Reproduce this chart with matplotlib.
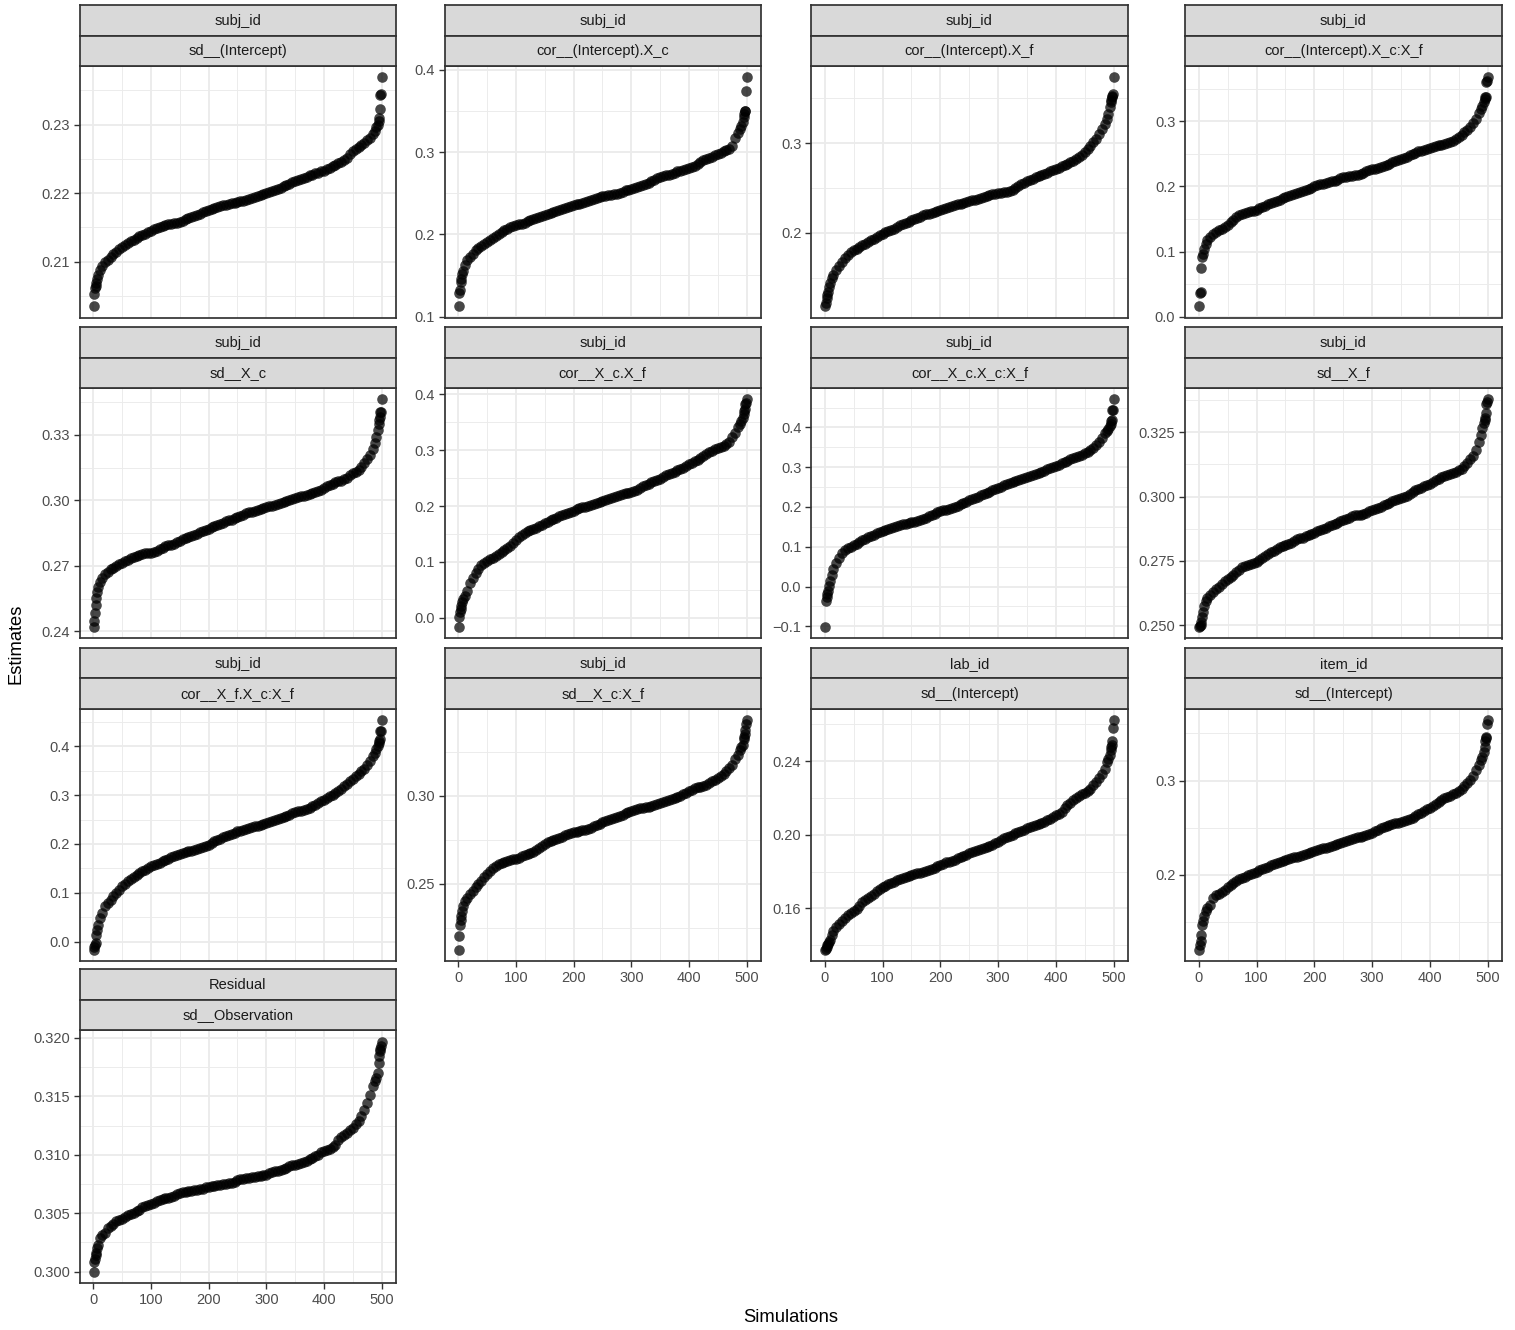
import matplotlib
matplotlib.use('Agg')
import matplotlib.pyplot as plt
import numpy as np

plt.rcParams['font.family'] = ['Liberation Sans', 'DejaVu Sans']

# ---------------- data ----------------
SIM = [1, 2, 3, 4, 5, 7, 9, 12, 15, 20, 25, 30,
       35, 40, 45, 50, 55, 60, 65, 70, 75, 80,
       85, 90, 95, 100, 105, 110, 115, 120, 125, 130,
       135, 140, 145, 150, 155, 160, 165, 170, 175, 180,
       185, 190, 195, 200, 205, 210, 215, 220, 225, 230,
       235, 240, 245, 250, 255, 260, 265, 270, 275, 280,
       285, 290, 295, 300, 305, 310, 315, 320, 325, 330,
       335, 340, 345, 350, 355, 360, 365, 370, 375, 380,
       385, 390, 395, 400, 405, 410, 415, 420, 425, 430,
       435, 440, 445, 450, 455, 460, 465, 470,
       475, 480, 485, 488, 491, 493, 495, 496, 497, 498, 499, 500]

GROUPS = ['subj_id'] * 10 + ['lab_id', 'item_id', 'Residual']
TERMS = ['sd__(Intercept)', 'cor__(Intercept).X_c', 'cor__(Intercept).X_f',
         'cor__(Intercept).X_c:X_f', 'sd__X_c', 'cor__X_c.X_f', 'cor__X_c.X_c:X_f',
         'sd__X_f', 'cor__X_f.X_c:X_f', 'sd__X_c:X_f', 'sd__(Intercept)',
         'sd__(Intercept)', 'sd__Observation']

est_subj_sd_int = [
    0.2035, 0.2052, 0.2062, 0.2065, 0.2068, 0.2074, 0.2080, 0.2088, 0.2093, 0.2099, 0.2103, 0.2107,
    0.2111, 0.2114, 0.2118, 0.2121, 0.2124, 0.2127, 0.2130, 0.2132, 0.2135, 0.2137,
    0.2139, 0.2141, 0.2143, 0.2145, 0.2147, 0.2149, 0.2151, 0.2152, 0.2154, 0.2155,
    0.2155, 0.2156, 0.2157, 0.2158, 0.2160, 0.2162, 0.2164, 0.2165, 0.2167, 0.2168,
    0.2170, 0.2172, 0.2174, 0.2175, 0.2177, 0.2178, 0.2180, 0.2181, 0.2182, 0.2183,
    0.2184, 0.2185, 0.2186, 0.2187, 0.2188, 0.2189, 0.2190, 0.2191, 0.2193, 0.2194,
    0.2196, 0.2197, 0.2199, 0.2200, 0.2202, 0.2203, 0.2205, 0.2206, 0.2208, 0.2210,
    0.2212, 0.2214, 0.2216, 0.2217, 0.2219, 0.2220, 0.2222, 0.2224, 0.2226, 0.2227,
    0.2229, 0.2230, 0.2232, 0.2233, 0.2235, 0.2237, 0.2239, 0.2241, 0.2244, 0.2246,
    0.2249, 0.2252, 0.2257, 0.2262, 0.2265, 0.2268, 0.2271, 0.2273,
    0.2277, 0.2281, 0.2287, 0.2291, 0.2296, 0.2300, 0.2305, 0.2310, 0.2323, 0.2344, 0.2345, 0.2369]

est_subj_cor_int_xc = [
    0.1127, 0.1281, 0.1321, 0.1422, 0.1460, 0.1520, 0.1556, 0.1624, 0.1685, 0.1725, 0.1766, 0.1806,
    0.1830, 0.1855, 0.1881, 0.1907, 0.1932, 0.1956, 0.1978, 0.2000, 0.2024, 0.2048,
    0.2069, 0.2089, 0.2104, 0.2117, 0.2123, 0.2129, 0.2143, 0.2158, 0.2174, 0.2190,
    0.2200, 0.2210, 0.2220, 0.2230, 0.2245, 0.2259, 0.2271, 0.2283, 0.2297, 0.2311,
    0.2321, 0.2331, 0.2342, 0.2352, 0.2362, 0.2372, 0.2382, 0.2392, 0.2402, 0.2412,
    0.2426, 0.2440, 0.2451, 0.2461, 0.2467, 0.2473, 0.2479, 0.2485, 0.2493, 0.2501,
    0.2517, 0.2533, 0.2544, 0.2554, 0.2564, 0.2574, 0.2584, 0.2594, 0.2608, 0.2622,
    0.2643, 0.2663, 0.2679, 0.2695, 0.2705, 0.2715, 0.2725, 0.2735, 0.2750, 0.2764,
    0.2774, 0.2784, 0.2796, 0.2808, 0.2822, 0.2836, 0.2857, 0.2877, 0.2897, 0.2917,
    0.2931, 0.2945, 0.2962, 0.2978, 0.2994, 0.3010, 0.3024, 0.3038,
    0.3079, 0.3172, 0.3228, 0.3281, 0.3321, 0.3362, 0.3422, 0.3463, 0.3495, 0.3503, 0.3737, 0.3907]

est_subj_cor_int_xf = [
    0.1185, 0.1222, 0.1270, 0.1307, 0.1344, 0.1400, 0.1437, 0.1493, 0.1530, 0.1585, 0.1630, 0.1678,
    0.1717, 0.1752, 0.1782, 0.1807, 0.1826, 0.1844, 0.1862, 0.1881, 0.1900, 0.1919,
    0.1937, 0.1956, 0.1975, 0.1993, 0.2008, 0.2022, 0.2035, 0.2048, 0.2067, 0.2085,
    0.2098, 0.2111, 0.2126, 0.2141, 0.2154, 0.2167, 0.2182, 0.2196, 0.2206, 0.2215,
    0.2224, 0.2233, 0.2243, 0.2252, 0.2265, 0.2278, 0.2289, 0.2300, 0.2310, 0.2319,
    0.2328, 0.2337, 0.2347, 0.2356, 0.2363, 0.2370, 0.2382, 0.2393, 0.2404, 0.2415,
    0.2423, 0.2430, 0.2437, 0.2444, 0.2450, 0.2456, 0.2461, 0.2467, 0.2483, 0.2500,
    0.2521, 0.2541, 0.2560, 0.2578, 0.2591, 0.2604, 0.2619, 0.2633, 0.2646, 0.2659,
    0.2672, 0.2685, 0.2700, 0.2715, 0.2728, 0.2741, 0.2755, 0.2770, 0.2788, 0.2807,
    0.2825, 0.2844, 0.2870, 0.2900, 0.2935, 0.2974, 0.3010, 0.3048,
    0.3104, 0.3159, 0.3215, 0.3270, 0.3326, 0.3400, 0.3456, 0.3481, 0.3511, 0.3530, 0.3548, 0.3733]

est_subj_cor_int_xcxf = [
    0.0163, 0.0367, 0.0378, 0.0750, 0.0918, 0.0969, 0.1046, 0.1122, 0.1173, 0.1224, 0.1265, 0.1301,
    0.1327, 0.1352, 0.1375, 0.1403, 0.1455, 0.1490, 0.1530, 0.1556, 0.1575, 0.1592,
    0.1604, 0.1617, 0.1630, 0.1643, 0.1664, 0.1684, 0.1704, 0.1724, 0.1742, 0.1760,
    0.1778, 0.1796, 0.1817, 0.1837, 0.1855, 0.1872, 0.1885, 0.1898, 0.1910, 0.1923,
    0.1944, 0.1964, 0.1982, 0.2000, 0.2016, 0.2031, 0.2044, 0.2056, 0.2066, 0.2077,
    0.2089, 0.2102, 0.2125, 0.2143, 0.2148, 0.2153, 0.2160, 0.2168, 0.2181, 0.2194,
    0.2212, 0.2230, 0.2245, 0.2260, 0.2273, 0.2286, 0.2298, 0.2311, 0.2329, 0.2347,
    0.2368, 0.2388, 0.2405, 0.2423, 0.2441, 0.2459, 0.2480, 0.2500, 0.2518, 0.2536,
    0.2548, 0.2561, 0.2577, 0.2592, 0.2604, 0.2617, 0.2630, 0.2643, 0.2655, 0.2668,
    0.2686, 0.2704, 0.2728, 0.2755, 0.2792, 0.2832, 0.2870, 0.2908,
    0.2969, 0.3036, 0.3122, 0.3189, 0.3240, 0.3291, 0.3342, 0.3378, 0.3378, 0.3597, 0.3622, 0.3673]

est_subj_sd_xc = [
    0.2419, 0.2449, 0.2483, 0.2520, 0.2551, 0.2578, 0.2605, 0.2627, 0.2646, 0.2662, 0.2672, 0.2684,
    0.2692, 0.2700, 0.2708, 0.2715, 0.2721, 0.2727, 0.2734, 0.2741, 0.2746, 0.2750,
    0.2754, 0.2757, 0.2759, 0.2760, 0.2763, 0.2768, 0.2776, 0.2783, 0.2789, 0.2794,
    0.2797, 0.2801, 0.2807, 0.2813, 0.2821, 0.2829, 0.2833, 0.2836, 0.2841, 0.2847,
    0.2853, 0.2859, 0.2865, 0.2870, 0.2876, 0.2882, 0.2887, 0.2892, 0.2898, 0.2904,
    0.2908, 0.2912, 0.2918, 0.2923, 0.2929, 0.2935, 0.2940, 0.2945, 0.2949, 0.2953,
    0.2957, 0.2961, 0.2965, 0.2968, 0.2972, 0.2976, 0.2980, 0.2985, 0.2989, 0.2992,
    0.2998, 0.3003, 0.3007, 0.3011, 0.3015, 0.3018, 0.3022, 0.3026, 0.3030, 0.3033,
    0.3037, 0.3041, 0.3048, 0.3056, 0.3064, 0.3071, 0.3077, 0.3082, 0.3087, 0.3091,
    0.3096, 0.3102, 0.3115, 0.3124, 0.3130, 0.3140, 0.3155, 0.3170,
    0.3188, 0.3208, 0.3234, 0.3261, 0.3291, 0.3322, 0.3352, 0.3370, 0.3382, 0.3405, 0.3405, 0.3463]

est_subj_cor_xc_xf = [
    -0.0165, 0.0012, 0.0100, 0.0159, 0.0218, 0.0277, 0.0336, 0.0395, 0.0484, 0.0631, 0.0720, 0.0808,
    0.0880, 0.0938, 0.0980, 0.1015, 0.1045, 0.1074, 0.1110, 0.1145, 0.1183, 0.1221,
    0.1255, 0.1292, 0.1345, 0.1398, 0.1445, 0.1487, 0.1520, 0.1546, 0.1567, 0.1587,
    0.1610, 0.1634, 0.1663, 0.1693, 0.1722, 0.1752, 0.1773, 0.1794, 0.1818, 0.1841,
    0.1862, 0.1882, 0.1900, 0.1917, 0.1938, 0.1959, 0.1974, 0.1988, 0.2003, 0.2018,
    0.2038, 0.2059, 0.2077, 0.2094, 0.2109, 0.2124, 0.2139, 0.2153, 0.2174, 0.2195,
    0.2210, 0.2224, 0.2239, 0.2254, 0.2275, 0.2295, 0.2325, 0.2354, 0.2378, 0.2401,
    0.2422, 0.2442, 0.2466, 0.2490, 0.2520, 0.2549, 0.2570, 0.2590, 0.2614, 0.2637,
    0.2661, 0.2684, 0.2714, 0.2743, 0.2770, 0.2796, 0.2829, 0.2861, 0.2897, 0.2932,
    0.2962, 0.2991, 0.3012, 0.3032, 0.3056, 0.3080, 0.3110, 0.3139,
    0.3239, 0.3298, 0.3404, 0.3463, 0.3522, 0.3581, 0.3640, 0.3699, 0.3729, 0.3817, 0.3847, 0.3906]

est_subj_cor_xc_xcxf = [
    -0.1020, -0.0354, -0.0271, -0.0188, -0.0105, 0.0020, 0.0145, 0.0286, 0.0453, 0.0602, 0.0727, 0.0852,
    0.0920, 0.0977, 0.1006, 0.1035, 0.1076, 0.1118, 0.1160, 0.1201, 0.1235, 0.1268,
    0.1301, 0.1334, 0.1368, 0.1401, 0.1426, 0.1451, 0.1476, 0.1501, 0.1526, 0.1551,
    0.1568, 0.1584, 0.1600, 0.1617, 0.1634, 0.1651, 0.1675, 0.1700, 0.1734, 0.1767,
    0.1800, 0.1834, 0.1863, 0.1892, 0.1912, 0.1933, 0.1954, 0.1975, 0.2004, 0.2033,
    0.2066, 0.2100, 0.2133, 0.2166, 0.2195, 0.2225, 0.2258, 0.2291, 0.2320, 0.2349,
    0.2383, 0.2416, 0.2450, 0.2483, 0.2512, 0.2541, 0.2570, 0.2599, 0.2624, 0.2649,
    0.2674, 0.2699, 0.2724, 0.2749, 0.2778, 0.2807, 0.2836, 0.2865, 0.2890, 0.2915,
    0.2944, 0.2973, 0.3002, 0.3032, 0.3065, 0.3098, 0.3131, 0.3165, 0.3194, 0.3223,
    0.3252, 0.3281, 0.3314, 0.3348, 0.3388, 0.3431, 0.3490, 0.3556,
    0.3639, 0.3739, 0.3847, 0.3913, 0.3972, 0.4030, 0.4097, 0.4163, 0.4196, 0.4429, 0.4429, 0.4704]

est_subj_sd_xf = [
    0.2492, 0.2495, 0.2501, 0.2512, 0.2531, 0.2550, 0.2573, 0.2595, 0.2604, 0.2615, 0.2628, 0.2640,
    0.2650, 0.2660, 0.2670, 0.2679, 0.2688, 0.2696, 0.2706, 0.2715, 0.2724, 0.2731,
    0.2734, 0.2737, 0.2741, 0.2746, 0.2752, 0.2759, 0.2768, 0.2776, 0.2783, 0.2789,
    0.2796, 0.2802, 0.2807, 0.2811, 0.2816, 0.2821, 0.2828, 0.2834, 0.2837, 0.2840,
    0.2845, 0.2849, 0.2855, 0.2860, 0.2865, 0.2870, 0.2875, 0.2879, 0.2884, 0.2888,
    0.2893, 0.2898, 0.2904, 0.2909, 0.2914, 0.2918, 0.2923, 0.2927, 0.2929, 0.2930,
    0.2934, 0.2937, 0.2942, 0.2946, 0.2951, 0.2956, 0.2961, 0.2966, 0.2971, 0.2976,
    0.2981, 0.2986, 0.2991, 0.2995, 0.3000, 0.3004, 0.3011, 0.3018, 0.3024, 0.3030,
    0.3035, 0.3040, 0.3045, 0.3050, 0.3057, 0.3063, 0.3069, 0.3075, 0.3079, 0.3082,
    0.3087, 0.3091, 0.3097, 0.3102, 0.3109, 0.3117, 0.3130, 0.3146,
    0.3159, 0.3182, 0.3214, 0.3240, 0.3265, 0.3285, 0.3298, 0.3304, 0.3326, 0.3360, 0.3369, 0.3378]

est_subj_cor_xf_xcxf = [
    -0.0160, -0.0112, -0.0058, -0.0024, 0.0147, 0.0249, 0.0351, 0.0487, 0.0589, 0.0726, 0.0794, 0.0862,
    0.0930, 0.0998, 0.1067, 0.1135, 0.1186, 0.1237, 0.1278, 0.1319, 0.1363, 0.1407,
    0.1441, 0.1475, 0.1509, 0.1543, 0.1567, 0.1591, 0.1618, 0.1646, 0.1673, 0.1700,
    0.1724, 0.1748, 0.1772, 0.1796, 0.1813, 0.1830, 0.1847, 0.1864, 0.1881, 0.1898,
    0.1915, 0.1932, 0.1959, 0.1986, 0.2020, 0.2055, 0.2082, 0.2109, 0.2133, 0.2157,
    0.2180, 0.2204, 0.2231, 0.2259, 0.2276, 0.2293, 0.2310, 0.2327, 0.2344, 0.2361,
    0.2378, 0.2395, 0.2415, 0.2436, 0.2456, 0.2477, 0.2494, 0.2511, 0.2531, 0.2552,
    0.2576, 0.2600, 0.2627, 0.2654, 0.2667, 0.2681, 0.2701, 0.2722, 0.2746, 0.2770,
    0.2804, 0.2838, 0.2872, 0.2906, 0.2940, 0.2974, 0.3008, 0.3043, 0.3087, 0.3131,
    0.3179, 0.3227, 0.3281, 0.3336, 0.3383, 0.3431, 0.3485, 0.3540,
    0.3622, 0.3690, 0.3792, 0.3860, 0.3949, 0.3997, 0.4065, 0.4099, 0.4147, 0.4317, 0.4317, 0.4528]

est_subj_sd_xcxf = [
    0.2126, 0.2202, 0.2268, 0.2296, 0.2315, 0.2343, 0.2372, 0.2400, 0.2419, 0.2442, 0.2460, 0.2479,
    0.2496, 0.2513, 0.2540, 0.2555, 0.2573, 0.2589, 0.2601, 0.2611, 0.2619, 0.2626,
    0.2631, 0.2636, 0.2639, 0.2642, 0.2648, 0.2655, 0.2661, 0.2668, 0.2675, 0.2683,
    0.2692, 0.2702, 0.2714, 0.2725, 0.2735, 0.2743, 0.2749, 0.2755, 0.2762, 0.2768,
    0.2775, 0.2781, 0.2787, 0.2792, 0.2796, 0.2800, 0.2804, 0.2808, 0.2813, 0.2819,
    0.2827, 0.2834, 0.2842, 0.2849, 0.2856, 0.2862, 0.2867, 0.2872, 0.2878, 0.2885,
    0.2893, 0.2900, 0.2907, 0.2913, 0.2919, 0.2925, 0.2929, 0.2932, 0.2935, 0.2938,
    0.2942, 0.2947, 0.2952, 0.2957, 0.2964, 0.2970, 0.2975, 0.2981, 0.2988, 0.2994,
    0.3001, 0.3008, 0.3017, 0.3026, 0.3035, 0.3042, 0.3047, 0.3051, 0.3057, 0.3064,
    0.3073, 0.3083, 0.3092, 0.3102, 0.3114, 0.3126, 0.3140, 0.3155,
    0.3174, 0.3208, 0.3234, 0.3258, 0.3277, 0.3287, 0.3321, 0.3334, 0.3353, 0.3372, 0.3409, 0.3428]

est_lab_sd_int = [
    0.1377, 0.1382, 0.1389, 0.1400, 0.1407, 0.1418, 0.1431, 0.1458, 0.1476, 0.1497, 0.1515, 0.1530,
    0.1548, 0.1562, 0.1573, 0.1584, 0.1595, 0.1611, 0.1633, 0.1647, 0.1659, 0.1670,
    0.1681, 0.1692, 0.1703, 0.1714, 0.1723, 0.1732, 0.1739, 0.1746, 0.1753, 0.1760,
    0.1764, 0.1768, 0.1775, 0.1782, 0.1786, 0.1791, 0.1795, 0.1800, 0.1804, 0.1809,
    0.1815, 0.1822, 0.1829, 0.1836, 0.1843, 0.1850, 0.1854, 0.1859, 0.1865, 0.1872,
    0.1878, 0.1885, 0.1892, 0.1899, 0.1907, 0.1914, 0.1918, 0.1923, 0.1929, 0.1935,
    0.1939, 0.1944, 0.1953, 0.1962, 0.1971, 0.1980, 0.1988, 0.1995, 0.2001, 0.2007,
    0.2013, 0.2020, 0.2027, 0.2034, 0.2041, 0.2047, 0.2052, 0.2058, 0.2064, 0.2070,
    0.2079, 0.2088, 0.2097, 0.2106, 0.2115, 0.2124, 0.2145, 0.2160, 0.2174, 0.2187,
    0.2199, 0.2211, 0.2220, 0.2229, 0.2239, 0.2250, 0.2268, 0.2286,
    0.2308, 0.2332, 0.2355, 0.2395, 0.2413, 0.2431, 0.2458, 0.2476, 0.2488, 0.2508, 0.2580, 0.2620]

est_item_sd_int = [
    0.1208, 0.1261, 0.1303, 0.1366, 0.1472, 0.1514, 0.1560, 0.1613, 0.1648, 0.1683, 0.1754, 0.1789,
    0.1800, 0.1817, 0.1842, 0.1866, 0.1889, 0.1912, 0.1935, 0.1958, 0.1970, 0.1982,
    0.1994, 0.2007, 0.2021, 0.2035, 0.2049, 0.2063, 0.2076, 0.2088, 0.2101, 0.2113,
    0.2124, 0.2134, 0.2146, 0.2158, 0.2167, 0.2176, 0.2185, 0.2194, 0.2203, 0.2211,
    0.2220, 0.2229, 0.2242, 0.2254, 0.2262, 0.2271, 0.2280, 0.2289, 0.2300, 0.2310,
    0.2320, 0.2331, 0.2342, 0.2352, 0.2361, 0.2370, 0.2378, 0.2387, 0.2396, 0.2405,
    0.2414, 0.2423, 0.2435, 0.2447, 0.2461, 0.2475, 0.2495, 0.2511, 0.2520, 0.2528,
    0.2537, 0.2546, 0.2555, 0.2563, 0.2572, 0.2581, 0.2593, 0.2606, 0.2624, 0.2641,
    0.2659, 0.2676, 0.2694, 0.2711, 0.2728, 0.2746, 0.2770, 0.2792, 0.2810, 0.2827,
    0.2839, 0.2852, 0.2870, 0.2887, 0.2915, 0.2944, 0.2974, 0.3004,
    0.3049, 0.3109, 0.3162, 0.3215, 0.3250, 0.3303, 0.3356, 0.3415, 0.3451, 0.3461, 0.3602, 0.3637]

est_resid_sd_obs = [
    0.3000, 0.3008, 0.3011, 0.3014, 0.3016, 0.3020, 0.3023, 0.3029, 0.3031, 0.3033, 0.3037, 0.3039,
    0.3041, 0.3043, 0.3044, 0.3045, 0.3047, 0.3048, 0.3049, 0.3050, 0.3052, 0.3053,
    0.3055, 0.3056, 0.3057, 0.3058, 0.3059, 0.3060, 0.3061, 0.3062, 0.3063, 0.3063,
    0.3064, 0.3065, 0.3066, 0.3067, 0.3068, 0.3068, 0.3069, 0.3069, 0.3070, 0.3070,
    0.3071, 0.3071, 0.3072, 0.3072, 0.3073, 0.3073, 0.3074, 0.3074, 0.3075, 0.3075,
    0.3076, 0.3076, 0.3077, 0.3078, 0.3079, 0.3079, 0.3080, 0.3080, 0.3081, 0.3081,
    0.3082, 0.3082, 0.3083, 0.3083, 0.3084, 0.3085, 0.3086, 0.3086, 0.3087, 0.3088,
    0.3089, 0.3090, 0.3091, 0.3091, 0.3092, 0.3093, 0.3094, 0.3095, 0.3096, 0.3097,
    0.3099, 0.3100, 0.3102, 0.3103, 0.3104, 0.3105, 0.3107, 0.3108, 0.3113, 0.3115,
    0.3117, 0.3119, 0.3121, 0.3123, 0.3126, 0.3129, 0.3133, 0.3138,
    0.3144, 0.3151, 0.3159, 0.3163, 0.3166, 0.3170, 0.3179, 0.3185, 0.3189, 0.3191, 0.3193, 0.3197]

ESTIMATES = [est_subj_sd_int, est_subj_cor_int_xc, est_subj_cor_int_xf, est_subj_cor_int_xcxf,
             est_subj_sd_xc, est_subj_cor_xc_xf, est_subj_cor_xc_xcxf, est_subj_sd_xf,
             est_subj_cor_xf_xcxf, est_subj_sd_xcxf, est_lab_sd_int, est_item_sd_int,
             est_resid_sd_obs]

X_BREAKS = [0, 100, 200, 300, 400, 500]
X_LABELS = ['0', '100', '200', '300', '400', '500']

Y_BREAKS = [
    [0.21, 0.22, 0.23],
    [0.1, 0.2, 0.3, 0.4],
    [0.2, 0.3],
    [0.0, 0.1, 0.2, 0.3],
    [0.24, 0.27, 0.30, 0.33],
    [0.0, 0.1, 0.2, 0.3, 0.4],
    [-0.1, 0.0, 0.1, 0.2, 0.3, 0.4],
    [0.250, 0.275, 0.300, 0.325],
    [0.0, 0.1, 0.2, 0.3, 0.4],
    [0.25, 0.30],
    [0.16, 0.20, 0.24],
    [0.2, 0.3],
    [0.300, 0.305, 0.310, 0.315, 0.320],
]
Y_LABELS = [
    ['0.21', '0.22', '0.23'],
    ['0.1', '0.2', '0.3', '0.4'],
    ['0.2', '0.3'],
    ['0.0', '0.1', '0.2', '0.3'],
    ['0.24', '0.27', '0.30', '0.33'],
    ['0.0', '0.1', '0.2', '0.3', '0.4'],
    ['\u22120.1', '0.0', '0.1', '0.2', '0.3', '0.4'],
    ['0.250', '0.275', '0.300', '0.325'],
    ['0.0', '0.1', '0.2', '0.3', '0.4'],
    ['0.25', '0.30'],
    ['0.16', '0.20', '0.24'],
    ['0.2', '0.3'],
    ['0.300', '0.305', '0.310', '0.315', '0.320'],
]

# ---------------- layout (pixels) ----------------
W, H = 1515, 1330
COL_X = [(79.5, 396.0), (444.5, 761.0), (811.0, 1128.0), (1185.0, 1502.0)]
ROW_Y = [(66.0, 317.5), (388.0, 638.5), (709.0, 961.0), (1030.0, 1283.0)]
STRIP_H = 30.5

GRID_C = '#EBEBEB'
DARK = '#333333'
TICK_TXT = '#4D4D4D'
FS_TICK = 10.5
FS_STRIP = 10.5
FS_TITLE = 13.2
LW = 1.25


def minor_breaks(br, lo, hi):
    br = list(br)
    step = br[1] - br[0]
    ext = [br[0] - step] + br + [br[-1] + step]
    mids = [(a + b) / 2 for a, b in zip(ext[:-1], ext[1:])]
    return [m for m in mids if lo <= m <= hi]


fig = plt.figure(figsize=(W / 100, H / 100), dpi=100)
fig.patch.set_facecolor('white')

n = len(ESTIMATES)
bottom_panels = {9, 10, 11, 12}
for i in range(n):
    r, c = divmod(i, 4)
    x0, x1 = COL_X[c]
    yt, yb = ROW_Y[r]
    ax = fig.add_axes([x0 / W, 1 - yb / H, (x1 - x0) / W, (yb - yt) / H])
    ax.set_facecolor('white')

    xs = np.asarray(SIM, dtype=float)
    ys = np.asarray(ESTIMATES[i], dtype=float)
    xr = xs.max() - xs.min()
    yr = ys.max() - ys.min()
    xlo, xhi = xs.min() - 0.05 * xr, xs.max() + 0.05 * xr
    ylo, yhi = ys.min() - 0.05 * yr, ys.max() + 0.05 * yr
    ax.set_xlim(xlo, xhi)
    ax.set_ylim(ylo, yhi)

    ax.set_xticks(X_BREAKS)
    ax.set_xticks(minor_breaks(X_BREAKS, xlo, xhi), minor=True)
    ax.set_yticks(Y_BREAKS[i])
    ax.set_yticks(minor_breaks(Y_BREAKS[i], ylo, yhi), minor=True)
    ax.set_yticklabels(Y_LABELS[i])

    ax.grid(which='major', color=GRID_C, linewidth=1.3)
    ax.grid(which='minor', color=GRID_C, linewidth=0.65)
    ax.set_axisbelow(True)

    ax.scatter(xs, ys, s=58, color='black', alpha=0.72, linewidths=0, zorder=3)

    for sp in ax.spines.values():
        sp.set_color(DARK)
        sp.set_linewidth(LW)
        sp.set_zorder(4)

    ax.tick_params(axis='y', which='major', length=4.5, width=1.0, color=DARK,
                   labelsize=FS_TICK, labelcolor=TICK_TXT, pad=2.5)
    ax.tick_params(which='minor', length=0)
    if i in bottom_panels:
        ax.set_xticklabels(X_LABELS)
        ax.tick_params(axis='x', which='major', length=4.5, width=1.0, color=DARK,
                       labelsize=FS_TICK, labelcolor=TICK_TXT, pad=2.5)
    else:
        ax.tick_params(axis='x', which='major', length=0, labelbottom=False)

    # facet strips (two stacked labels)
    for k, lab in enumerate([GROUPS[i], TERMS[i]]):
        s_top = yt - STRIP_H * (2 - k)
        sax = fig.add_axes([x0 / W, 1 - (s_top + STRIP_H) / H, (x1 - x0) / W, STRIP_H / H])
        sax.set_facecolor('#D9D9D9')
        sax.set_xticks([])
        sax.set_yticks([])
        for sp in sax.spines.values():
            sp.set_color(DARK)
            sp.set_linewidth(LW)
        sax.text(0.5, 0.48, lab, ha='center', va='center', fontsize=FS_STRIP,
                 color='#1A1A1A', transform=sax.transAxes)

fig.text(790.5 / W, 1 - 1318 / H, 'Simulations', ha='center', va='center',
         fontsize=FS_TITLE, color='black')
fig.text(16 / W, 1 - 644 / H, 'Estimates', ha='center', va='center', rotation=90,
         fontsize=FS_TITLE, color='black')

fig.savefig('out.png', dpi=100, facecolor='white')
